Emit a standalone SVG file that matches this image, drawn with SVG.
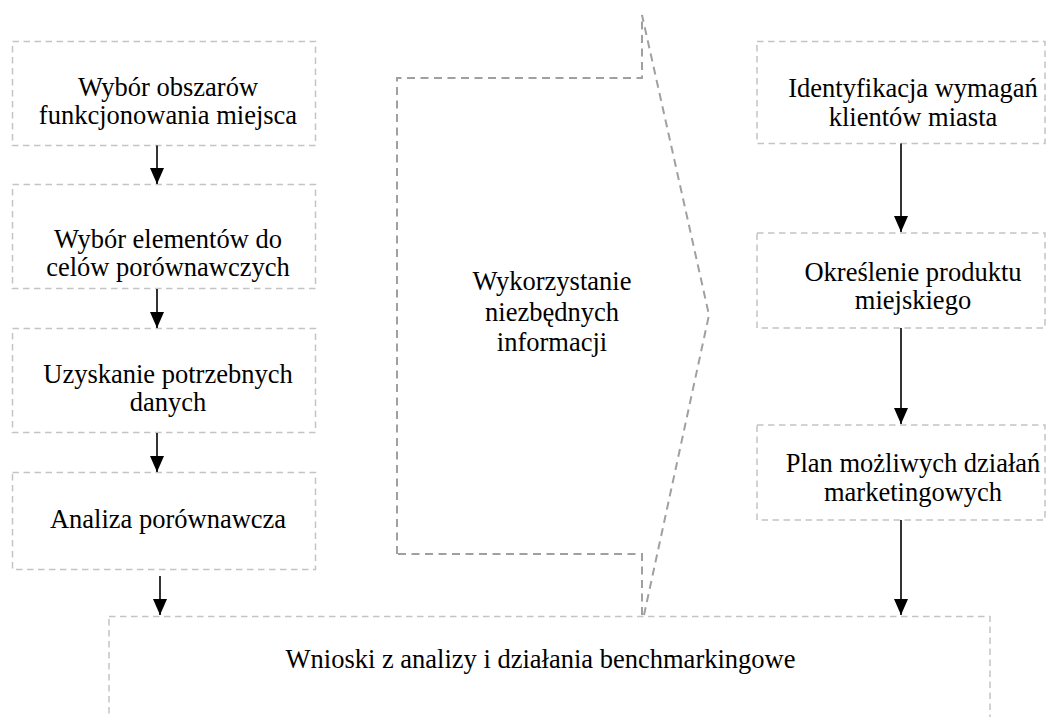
<svg xmlns="http://www.w3.org/2000/svg" width="1056" height="717" viewBox="0 0 1056 717">
<style>
.box{fill:none;stroke:#c4c4c4;stroke-width:1.5;stroke-dasharray:6.5 4.5}
.chev{fill:none;stroke:#a0a0a0;stroke-width:2;stroke-dasharray:8 5.5}
.t{font-family:'Liberation Serif','DejaVu Serif','Times New Roman',serif;font-size:26.5px;fill:#000;text-anchor:middle}
.arr{stroke:#000;stroke-width:1.6;fill:none;marker-end:url(#ah)}
</style>
<defs>
<marker id="ah" markerUnits="userSpaceOnUse" markerWidth="17" markerHeight="15" refX="16" refY="7" orient="auto" viewBox="0 0 17 14">
<path d="M0,0 L16,7 L0,14 Z" fill="#000"/>
</marker>
</defs>
<rect width="1056" height="717" fill="#fff"/>
<g id="n1" font-family="Liberation Serif, serif"><rect class="box" x="12.5" y="41.5" width="303" height="104"/>
<text class="t" x="168" y="96">Wybór obszarów</text><text class="t" x="168" y="124">funkcjonowania miejsca</text></g>
<g id="n2"><rect class="box" x="12.5" y="184.5" width="303" height="104"/>
<text class="t" x="168" y="248">Wybór elementów do</text><text class="t" x="168" y="276">celów porównawczych</text></g>
<g id="n3"><rect class="box" x="12.5" y="328.5" width="303" height="104"/>
<text class="t" x="168" y="383">Uzyskanie potrzebnych</text><text class="t" x="168" y="411">danych</text></g>
<g id="n4"><rect class="box" x="12.5" y="472.5" width="303" height="97"/>
<text class="t" x="168" y="528">Analiza porównawcza</text></g>
<g id="n5"><path class="chev" d="M397,554 V78 H642 V15 L709,315 L644,615 M642,615 V554 H397"/>
<text class="t" x="552" y="290">Wykorzystanie</text><text class="t" x="552" y="321">niezbędnych</text><text class="t" x="552" y="351">informacji</text></g>
<g id="n6"><rect class="box" x="757" y="41.5" width="288" height="102"/>
<text class="t" x="913" y="97">Identyfikacja wymagań</text><text class="t" x="913" y="126">klientów miasta</text></g>
<g id="n7"><rect class="box" x="757" y="233" width="288" height="95"/>
<text class="t" x="913" y="281">Określenie produktu</text><text class="t" x="913" y="309">miejskiego</text></g>
<g id="n8"><rect class="box" x="757" y="425" width="288" height="95"/>
<text class="t" x="913" y="472">Plan możliwych działań</text><text class="t" x="913" y="501">marketingowych</text></g>
<g id="n9"><rect class="box" x="109" y="616.5" width="881" height="130"/>
<text class="t" x="540.5" y="668">Wnioski z analizy i działania benchmarkingowe</text></g>
<g id="connectors">
<line class="arr" x1="157" y1="145.5" x2="157" y2="184"/>
<line class="arr" x1="157" y1="289" x2="157" y2="328"/>
<line class="arr" x1="157" y1="433" x2="157" y2="472"/>
<line class="arr" x1="160" y1="576" x2="160" y2="615"/>
<line class="arr" x1="901" y1="143.5" x2="901" y2="232"/>
<line class="arr" x1="901" y1="328" x2="901" y2="424"/>
<line class="arr" x1="901" y1="520" x2="901" y2="615"/>
</g>
</svg>
